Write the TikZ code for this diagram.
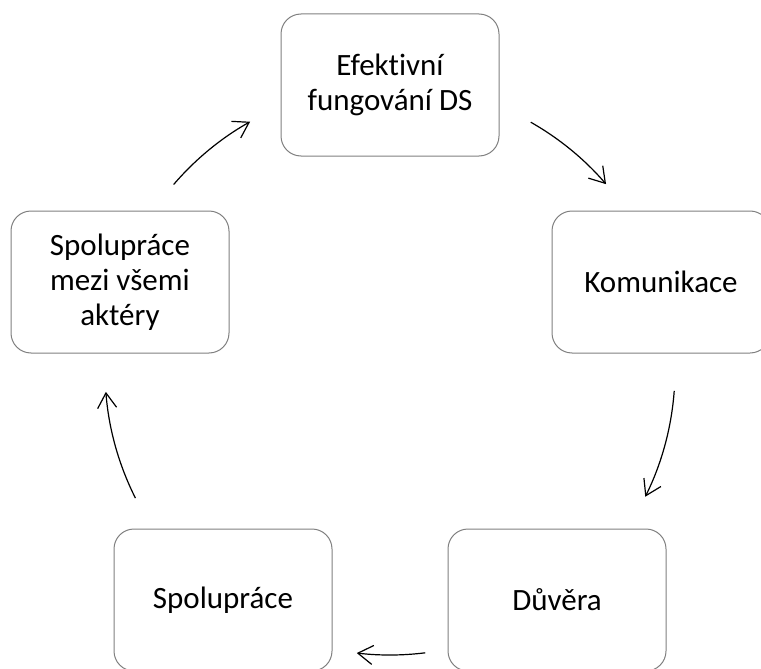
\documentclass[tikz,border=0pt]{standalone}
\usepackage{fontspec}
\setmainfont{Carlito}[Ligatures=NoCommon]
\usetikzlibrary{arrows.meta,calc}
\definecolor{boxgray}{RGB}{128,128,128}
\begin{document}
\begin{tikzpicture}[x=1pt,y=-1pt,
  stepbox/.style={draw=boxgray, line width=1pt, rounded corners=20pt, fill=white,
    minimum width=218pt, minimum height=142pt, inner sep=0pt, align=center,
    font=\fontsize{31}{35}\selectfont},
  cyc/.style={line width=1.2pt, -{Straight Barb[length=15pt,width=19pt,line width=1.2pt]}}]
\useasboundingbox (0,0) rectangle (761,669);
\coordinate (c) at (390,370);
\node[stepbox] (top) at (390,85) {Efektivní\\fungování DS};
\node[stepbox] (right) at (661,282) {Komunikace};
\node[stepbox] (br) at (557,600) {Důvěra};
\node[stepbox] (bl) at (223,600) {Spolupráce};
\node[stepbox] (left) at (120,282) {Spolupráce\\mezi všemi\\aktéry};
\coordinate (a1) at ($(c)+(220.6:285)$);
\draw[cyc] (a1) arc[start angle=220.6, end angle=240.6, radius=285];
\coordinate (a2) at ($(c)+(299.6:285)$);
\draw[cyc] (a2) arc[start angle=299.6, end angle=319.3, radius=285];
\coordinate (a3) at ($(c)+(4.2:285)$);
\draw[cyc] (a3) arc[start angle=4.2, end angle=26.4, radius=285];
\coordinate (a4) at ($(c)+(82.9:285)$);
\draw[cyc] (a4) arc[start angle=82.9, end angle=96.7, radius=285];
\coordinate (a5) at ($(c)+(153.3:285)$);
\draw[cyc] (a5) arc[start angle=153.3, end angle=175.6, radius=285];
\end{tikzpicture}
\end{document}
